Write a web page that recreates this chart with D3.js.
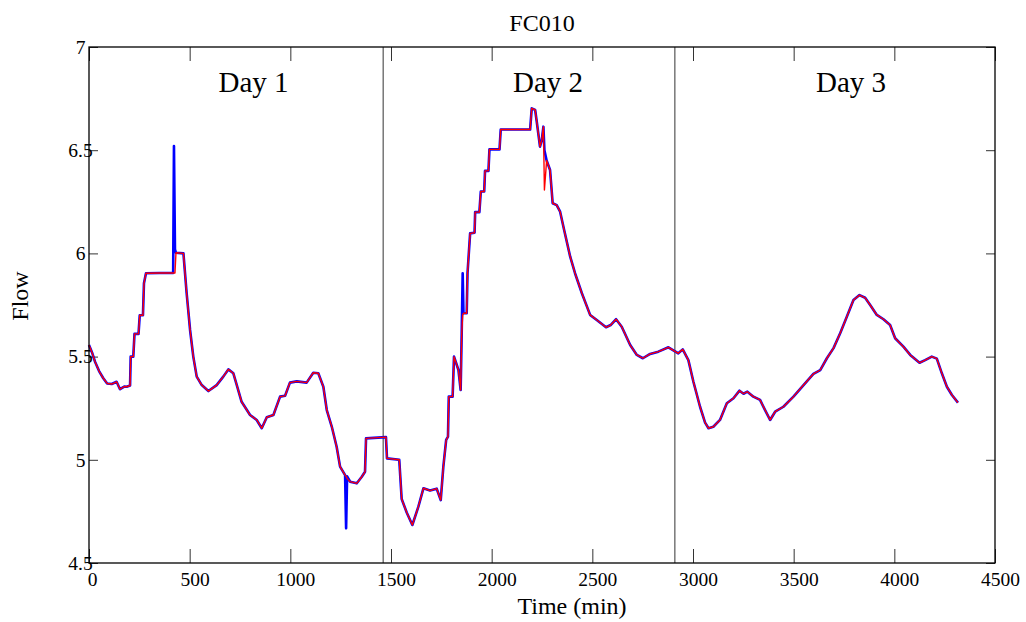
<!DOCTYPE html>
<html lang="en">
    <head>
        <meta charset="utf-8">
        <title>FC010</title>
        <script type="text/javascript" src="https://d3js.org/d3.v7.min.js"></script>
        <style>
            body { margin: 0; background: #fff; }
            #chart text { font-family: "Liberation Serif", "Times New Roman", serif; fill: #000; }
            .tick line { stroke: #333; }
            .domain { display: none; }
        </style>
    </head>
    <body>
        <svg id="chart"></svg>
    </body>
    <script>
        // time in minutes, shared by both series
        let timeMin = [0, 15, 30, 50, 71, 90, 113, 137, 154, 175, 187, 204, 207, 220, 226, 246, 252, 268, 273, 283,
            350, 418, 422, 427, 432, 469, 485, 502, 518, 535, 560, 593, 634, 667, 692, 717, 734, 758, 800, 833,
            858, 883, 916, 949, 974, 998, 1032, 1081, 1114, 1139, 1164, 1181, 1206, 1230, 1247, 1272, 1277, 1282,
            1297, 1330, 1355, 1371, 1376, 1475, 1480, 1541, 1553, 1578, 1606, 1636, 1661, 1694, 1727, 1747, 1760,
            1774, 1783, 1787, 1806, 1813, 1835, 1846, 1851, 1856, 1860, 1876, 1880, 1893, 1915, 1918, 1939, 1946,
            1963, 1967, 1984, 1989, 2039, 2045, 2191, 2199, 2216, 2224, 2240, 2249, 2257, 2262, 2273, 2290, 2303,
            2323, 2340, 2360, 2390, 2414, 2448, 2489, 2522, 2568, 2591, 2618, 2646, 2688, 2721, 2751, 2787, 2828,
            2878, 2927, 2949, 2977, 3002, 3035, 3060, 3077, 3101, 3134, 3168, 3201, 3231, 3251, 3270, 3300, 3333,
            3358, 3383, 3408, 3449, 3499, 3549, 3598, 3632, 3665, 3698, 3731, 3764, 3797, 3827, 3855, 3880, 3913,
            3946, 3979, 4004, 4045, 4079, 4125, 4153, 4186, 4211, 4236, 4261, 4286, 4316];

        // filtered flow (red)
        let flowFiltered = [5.556, 5.52, 5.475, 5.43, 5.395, 5.37, 5.367, 5.378, 5.342, 5.355, 5.354, 5.36, 5.50, 5.50, 5.61, 5.61, 5.70, 5.70, 5.855, 5.904,
            5.905, 5.905, 5.905, 5.905, 6.003, 6.0, 5.807, 5.629, 5.50, 5.403, 5.362, 5.333, 5.362, 5.403, 5.438, 5.419, 5.362, 5.281, 5.217, 5.193,
            5.153, 5.206, 5.217, 5.306, 5.31, 5.374, 5.38, 5.374, 5.422, 5.419, 5.354, 5.241, 5.16, 5.063, 4.967, 4.926, 4.92, 4.91,
            4.894, 4.886, 4.918, 4.942, 5.104, 5.11, 5.007, 5.0, 4.81, 4.745, 4.684, 4.773, 4.862, 4.851, 4.86, 4.805, 4.967,
            5.096, 5.112, 5.306, 5.306, 5.50, 5.435, 5.338, 5.605, 5.70, 5.71, 5.71, 5.904, 6.097, 6.10, 6.20, 6.20, 6.30,
            6.30, 6.40, 6.40, 6.504, 6.504, 6.60, 6.60, 6.703, 6.695, 6.638, 6.517, 6.55, 6.614, 6.307, 6.45, 6.404, 6.243,
            6.234, 6.202, 6.113, 5.984, 5.904, 5.807, 5.702, 5.677, 5.642, 5.653, 5.681, 5.645, 5.556, 5.508, 5.492, 5.513, 5.524,
            5.545, 5.516, 5.535, 5.483, 5.378, 5.257, 5.18, 5.153, 5.16, 5.193, 5.274, 5.298, 5.335, 5.32, 5.33, 5.306, 5.29,
            5.241, 5.193, 5.233, 5.257, 5.306, 5.362, 5.416, 5.435, 5.492, 5.541, 5.613, 5.693, 5.774, 5.798, 5.785, 5.75, 5.702,
            5.681, 5.653, 5.589, 5.548, 5.508, 5.47, 5.483, 5.50, 5.49, 5.419, 5.354, 5.314, 5.277];

        // raw flow (blue), same as filtered apart from the spikes
        let flowRaw = [5.556, 5.52, 5.475, 5.43, 5.395, 5.37, 5.367, 5.378, 5.342, 5.355, 5.354, 5.36, 5.50, 5.50, 5.61, 5.61, 5.70, 5.70, 5.855, 5.904,
            5.905, 5.905, 6.52, 6.02, 6.003, 6.0, 5.807, 5.629, 5.50, 5.403, 5.362, 5.333, 5.362, 5.403, 5.438, 5.419, 5.362, 5.281, 5.217, 5.193,
            5.153, 5.206, 5.217, 5.306, 5.31, 5.374, 5.38, 5.374, 5.422, 5.419, 5.354, 5.241, 5.16, 5.063, 4.967, 4.926, 4.668, 4.92,
            4.894, 4.886, 4.918, 4.942, 5.104, 5.11, 5.007, 5.0, 4.81, 4.745, 4.684, 4.773, 4.862, 4.851, 4.86, 4.805, 4.967,
            5.096, 5.112, 5.306, 5.306, 5.50, 5.435, 5.338, 5.605, 5.904, 5.71, 5.71, 5.904, 6.097, 6.10, 6.20, 6.20, 6.30,
            6.30, 6.40, 6.40, 6.504, 6.504, 6.60, 6.60, 6.703, 6.695, 6.638, 6.517, 6.55, 6.614, 6.50, 6.45, 6.404, 6.243,
            6.234, 6.202, 6.113, 5.984, 5.904, 5.807, 5.702, 5.677, 5.642, 5.653, 5.681, 5.645, 5.556, 5.508, 5.492, 5.513, 5.524,
            5.545, 5.516, 5.535, 5.483, 5.378, 5.257, 5.18, 5.153, 5.16, 5.193, 5.274, 5.298, 5.335, 5.32, 5.33, 5.306, 5.29,
            5.241, 5.193, 5.233, 5.257, 5.306, 5.362, 5.416, 5.435, 5.492, 5.541, 5.613, 5.693, 5.774, 5.798, 5.785, 5.75, 5.702,
            5.681, 5.653, 5.589, 5.548, 5.508, 5.47, 5.483, 5.50, 5.49, 5.419, 5.354, 5.314, 5.277];

        let dayBreaks = [1461, 2910];
        let dayLabels = ["Day 1", "Day 2", "Day 3"];
        let dayLabelPos = [817, 2280, 3785];
        let xTicks = [0, 500, 1000, 1500, 2000, 2500, 3000, 3500, 4000, 4500];
        let yTicks = [4.5, 5, 5.5, 6, 6.5, 7];

        let width = 1026, height = 622;
        let margin = {left: 89, right: 31, top: 47, bottom: 59};

        let svg = d3.select("#chart")
            .attr("width", width)
            .attr("height", height);

        let x = d3.scaleLinear().domain([0, 4500]).range([margin.left, width - margin.right]);
        let y = d3.scaleLinear().domain([4.5, 7]).range([height - margin.bottom, margin.top]);

        // axes, ticks pointing inward like matlab
        let gx = svg.append("g")
            .attr("transform", "translate(0," + y(4.5) + ")")
            .call(d3.axisBottom(x).tickValues(xTicks).tickSize(-14).tickPadding(9).tickFormat(d3.format("d")));
        gx.selectAll("text")
            .attr("x", d => d === 0 ? 3 : 5)
            .style("font-size", "19.5px");

        svg.append("g")
            .attr("transform", "translate(0," + y(7) + ")")
            .call(d3.axisTop(x).tickValues(xTicks).tickSize(-14).tickFormat(""));

        let gy = svg.append("g")
            .attr("transform", "translate(" + x(0) + ",0)")
            .call(d3.axisLeft(y).tickValues(yTicks).tickSize(-9).tickFormat(d3.format("")));
        gy.selectAll("text").attr("x", -8.5).attr("text-anchor", "middle").style("font-size", "19.5px");

        svg.append("g")
            .attr("transform", "translate(" + x(4500) + ",0)")
            .call(d3.axisRight(y).tickValues(yTicks).tickSize(-9).tickFormat(""));

        // day separators
        svg.selectAll(".daybreak")
            .data(dayBreaks)
            .enter().append("line")
            .attr("x1", d => x(d)).attr("x2", d => x(d))
            .attr("y1", y(7)).attr("y2", y(4.5))
            .attr("stroke", "#333")
            .attr("stroke-width", 1);

        let line = d3.line()
            .x((d, i) => x(timeMin[i]))
            .y(d => y(d));

        svg.append("path")
            .datum(flowRaw)
            .attr("d", line)
            .attr("fill", "none")
            .attr("stroke", "#0000ff")
            .attr("stroke-width", 2.6)
            .attr("stroke-linejoin", "round");

        svg.append("path")
            .datum(flowFiltered)
            .attr("d", line)
            .attr("fill", "none")
            .attr("stroke", "#ff0000")
            .attr("stroke-width", 1.4)
            .attr("stroke-linejoin", "round");

        // box
        svg.append("rect")
            .attr("x", x(0)).attr("y", y(7))
            .attr("width", x(4500) - x(0))
            .attr("height", y(4.5) - y(7))
            .attr("fill", "none")
            .attr("stroke", "#000")
            .attr("stroke-width", 1.3);

        svg.selectAll(".day")
            .data(dayLabels)
            .enter().append("text")
            .attr("x", (d, i) => x(dayLabelPos[i]))
            .attr("y", 92)
            .attr("text-anchor", "middle")
            .style("font-size", "29px")
            .text(d => d);

        svg.append("text")
            .attr("x", (x(0) + x(4500)) / 2)
            .attr("y", 31)
            .attr("text-anchor", "middle")
            .style("font-size", "24px")
            .text("FC010");

        svg.append("text")
            .attr("x", 572)
            .attr("y", 614)
            .attr("text-anchor", "middle")
            .style("font-size", "24px")
            .text("Time (min)");

        svg.append("text")
            .attr("transform", "translate(28,296) rotate(-90)")
            .attr("text-anchor", "middle")
            .style("font-size", "24px")
            .text("Flow");
    </script>
</html>
